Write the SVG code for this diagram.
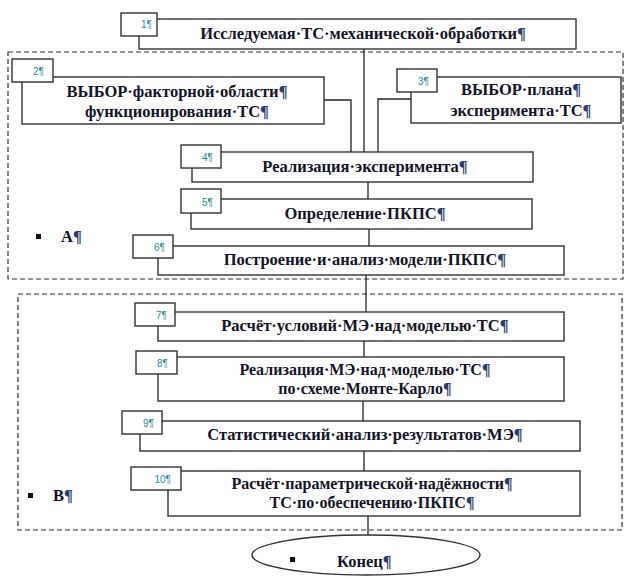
<svg xmlns="http://www.w3.org/2000/svg" width="624" height="577" viewBox="0 0 624 577">
<style>
.box{fill:#fff;stroke:#333;stroke-width:1.4}
.tag{fill:#fff;stroke:#333;stroke-width:1.4}
.dash{fill:none;stroke:#333;stroke-width:1.2;stroke-dasharray:5 3}
.ln{fill:none;stroke:#222;stroke-width:1.3}
.t{font-family:"Liberation Serif","Times New Roman",serif;font-weight:bold;font-size:16.5px;fill:#141428;text-anchor:middle}
.s{font-size:16px}
.n{font-family:"Liberation Sans",Arial,sans-serif;font-size:10px;fill:#2a8c96;text-anchor:end}
.p{fill:#2c3c6c}
.lab{font-family:"Liberation Serif","Times New Roman",serif;font-weight:bold;font-size:16.5px;fill:#141428}
</style>
<rect width="624" height="577" fill="#fff"/>
<g id="regionA"><rect class="dash" x="8" y="52" width="615" height="227"/>
<rect x="36" y="234" width="5" height="5" fill="#111"/><text class="lab" x="61" y="242">А<tspan class="p">¶</tspan></text></g>
<g id="regionB"><rect class="dash" x="18" y="294" width="604" height="236"/>
<rect x="28" y="493" width="5" height="5" fill="#111"/><text class="lab" x="53" y="501">В<tspan class="p">¶</tspan></text></g>
<g id="connectors">
<line class="ln" x1="364" y1="49" x2="364" y2="152"/>
<polyline class="ln" points="324,100 351,100 351,152"/>
<polyline class="ln" points="411,99 378,99 378,152"/>
<line class="ln" x1="368" y1="182" x2="368" y2="199"/>
<line class="ln" x1="369" y1="229" x2="369" y2="246"/>
<line class="ln" x1="366" y1="275" x2="366" y2="312"/>
<line class="ln" x1="364" y1="341" x2="364" y2="357"/>
<line class="ln" x1="363" y1="401" x2="363" y2="421"/>
<line class="ln" x1="364" y1="451" x2="364" y2="471"/>
<line class="ln" x1="368" y1="516" x2="368" y2="535"/>
</g>
<g id="node1"><rect class="box" x="139" y="19" width="437" height="30"/><rect class="tag" x="121" y="13" width="36" height="23"/>
<text class="n" x="152" y="28">1¶</text><text class="t" x="363" y="39">Исследуемая·ТС·механической·обработки<tspan class="p">¶</tspan></text></g>
<g id="node2"><rect class="box" x="22" y="77" width="302" height="47"/><rect class="tag" x="12" y="59" width="41" height="23"/>
<text class="n" x="44" y="75">2¶</text><text class="t" x="177" y="97">ВЫБОР·факторной·области<tspan class="p">¶</tspan></text><text class="t" x="177" y="117">функционирования·ТС<tspan class="p">¶</tspan></text></g>
<g id="node3"><rect class="box" x="411" y="77" width="210" height="46"/><rect class="tag" x="397" y="69" width="40" height="23"/>
<text class="n" x="429" y="85">3¶</text><text class="t" x="521" y="95">ВЫБОР·плана<tspan class="p">¶</tspan></text><text class="t" x="521" y="116">эксперимента·ТС<tspan class="p">¶</tspan></text></g>
<g id="node4"><rect class="box" x="192" y="152" width="341" height="30"/><rect class="tag" x="181" y="145" width="40" height="23"/>
<text class="n" x="213" y="161">4¶</text><text class="t" x="365" y="172">Реализация·эксперимента<tspan class="p">¶</tspan></text></g>
<g id="node5"><rect class="box" x="191" y="199" width="341" height="30"/><rect class="tag" x="181" y="189" width="40" height="24"/>
<text class="n" x="213" y="206">5¶</text><text class="t" x="365" y="219">Определение·ПКПС<tspan class="p">¶</tspan></text></g>
<g id="node6"><rect class="box" x="158" y="246" width="406" height="29"/><rect class="tag" x="133" y="235" width="40" height="23"/>
<text class="n" x="165" y="251">6¶</text><text class="t" x="365" y="265">Построение·и·анализ·модели·ПКПС<tspan class="p">¶</tspan></text></g>
<g id="node7"><rect class="box" x="158" y="312" width="406" height="29"/><rect class="tag" x="135" y="303" width="40" height="23"/>
<text class="n" x="167" y="319">7¶</text><text class="t" x="365" y="331">Расчёт·условий·МЭ·над·моделью·ТС<tspan class="p">¶</tspan></text></g>
<g id="node8"><rect class="box" x="158" y="357" width="406" height="44"/><rect class="tag" x="136" y="351" width="41" height="23"/>
<text class="n" x="168" y="367">8¶</text><text class="t s" x="365" y="375">Реализация·МЭ·над·моделью·ТС<tspan class="p">¶</tspan></text><text class="t s" x="365" y="394">по·схеме·Монте-Карло<tspan class="p">¶</tspan></text></g>
<g id="node9"><rect class="box" x="140" y="421" width="440" height="30"/><rect class="tag" x="122" y="411" width="40" height="23"/>
<text class="n" x="154" y="427">9¶</text><text class="t" x="365" y="440">Статистический·анализ·результатов·МЭ<tspan class="p">¶</tspan></text></g>
<g id="node10"><rect class="box" x="168" y="471" width="412" height="45"/><rect class="tag" x="131" y="467" width="50" height="23"/>
<text class="n" x="171" y="483">10¶</text><text class="t s" x="372" y="489">Расчёт·параметрической·надёжности<tspan class="p">¶</tspan></text><text class="t s" x="372" y="508">ТС·по·обеспечению·ПКПС<tspan class="p">¶</tspan></text></g>
<g id="end"><ellipse class="box" cx="366" cy="555" rx="114" ry="20"/><rect x="290" y="557" width="5" height="5" fill="#111"/>
<text class="lab" x="337" y="567">Конец<tspan class="p">¶</tspan></text></g>
</svg>
